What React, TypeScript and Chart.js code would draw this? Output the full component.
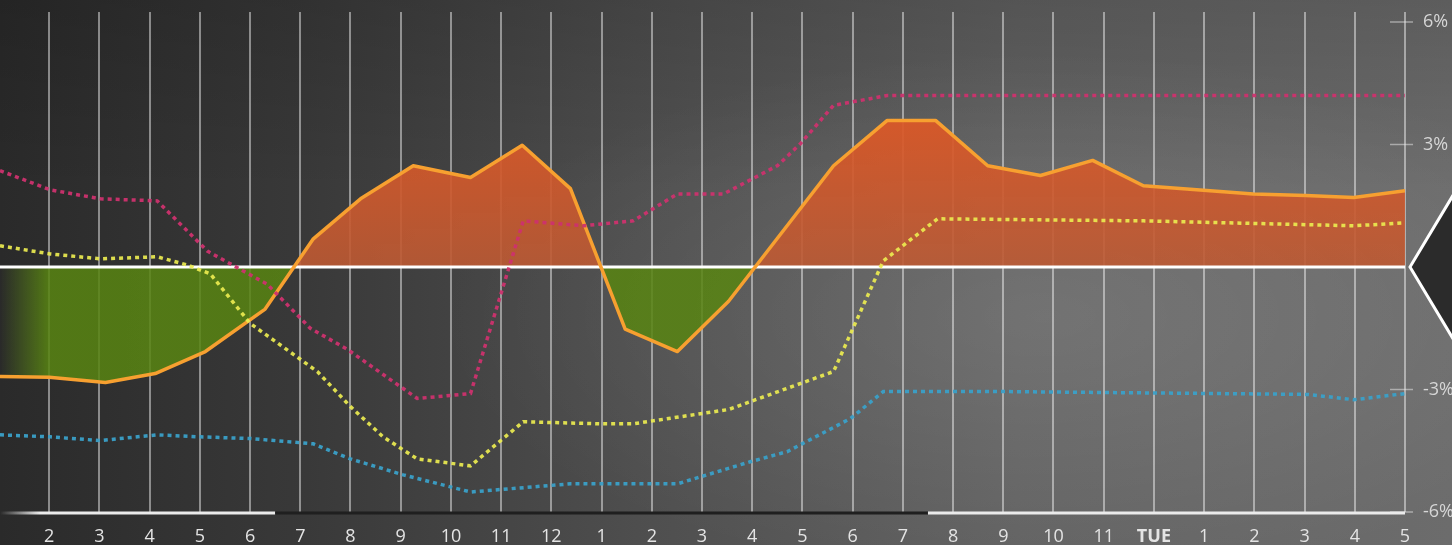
import React, { useEffect, useRef } from "react";
import { Chart, registerables } from "chart.js";

Chart.register(...registerables);

// ---------- data ----------
const hourLabels = ["2", "3", "4", "5", "6", "7", "8", "9", "10", "11", "12", "1", "2", "3", "4", "5", "6", "7", "8", "9", "10", "11", "TUE", "1", "2", "3", "4", "5"];
const yTickValues = [-6, -3, 0, 3, 6];

// orange (net) series: x positions in hour-index units, y in %
const netX = [-0.98, 0, 1.12, 2.11, 3.11, 4.3, 5.26, 6.2, 7.25, 8.39, 9.42, 10.38, 11.47, 12.51, 13.53, 15.62, 16.69, 17.65, 18.69, 19.74, 20.78, 21.79, 23.98, 25.02, 25.98, 27.0];
const netY = [-2.68, -2.7, -2.83, -2.61, -2.07, -1.03, 0.69, 1.67, 2.48, 2.19, 2.98, 1.92, -1.52, -2.07, -0.84, 2.48, 3.59, 3.59, 2.48, 2.24, 2.61, 1.99, 1.79, 1.75, 1.7, 1.87];

const pinkX = [-0.98, 0.02, 1.02, 2.15, 3.15, 4.34, 5.2, 5.94, 7.33, 8.39, 9.44, 10.64, 11.63, 12.51, 13.43, 14.5, 14.96, 15.62, 16.69, 27.0];
const pinkY = [2.36, 1.89, 1.67, 1.62, 0.39, -0.42, -1.5, -2.02, -3.22, -3.1, 1.13, 1.01, 1.13, 1.79, 1.79, 2.48, 3.02, 3.96, 4.2, 4.2];

const yellowX = [-0.98, 0.02, 1.02, 2.15, 2.75, 3.21, 4.0, 5.0, 5.34, 6.0, 6.65, 7.33, 8.39, 9.44, 10.98, 11.63, 13.53, 15.62, 16.61, 17.69, 21.79, 25.98, 27.0];
const yellowY = [0.52, 0.32, 0.2, 0.25, 0.05, -0.17, -1.38, -2.26, -2.56, -3.42, -4.16, -4.7, -4.87, -3.79, -3.84, -3.84, -3.49, -2.56, 0.15, 1.18, 1.13, 1.01, 1.08];

const blueX = [-0.98, 0.02, 1.02, 2.15, 3.01, 4.0, 5.26, 6.0, 7.05, 8.39, 10.38, 12.51, 13.96, 14.7, 15.96, 16.61, 18.94, 25.06, 25.98, 27.0];
const blueY = [-4.11, -4.16, -4.25, -4.11, -4.16, -4.2, -4.33, -4.7, -5.09, -5.51, -5.31, -5.31, -4.77, -4.52, -3.71, -3.05, -3.05, -3.12, -3.25, -3.1];

// highlighted time window on the bottom axis (hour-index units)
const windowStart = 4.5;
const windowEnd = 17.5;

const toPoints = (xs: number[], ys: number[]) => xs.map((x, k) => ({ x, y: ys[k] }));

const FONT = "'Open Sans', 'DejaVu Sans', sans-serif";

export default function App() {
  const canvasRef = useRef<HTMLCanvasElement | null>(null);

  useEffect(() => {
    const canvas = canvasRef.current;
    if (!canvas) return;
    const ctx = canvas.getContext("2d")!;

    const orangeGrad = ctx.createLinearGradient(0, 110, 0, 268);
    orangeGrad.addColorStop(0, "rgba(222,88,38,0.94)");
    orangeGrad.addColorStop(1, "rgba(188,90,52,0.9)");

    const greenGrad = ctx.createLinearGradient(0, 0, 48, 0);
    greenGrad.addColorStop(0, "rgba(88,132,18,0)");
    greenGrad.addColorStop(1, "rgba(88,132,18,0.86)");

    const decor = {
      id: "decor",
      beforeDatasetDraw(chart: any, args: any) {
        if (args.index !== 3) return;
        const { ctx: c, chartArea, scales } = chart;
        const y0 = scales.y.getPixelForValue(0);
        c.save();
        c.strokeStyle = "#ffffff";
        c.lineWidth = 3;
        c.beginPath();
        c.moveTo(chartArea.left, y0);
        c.lineTo(chartArea.right, y0);
        c.stroke();
        c.restore();
      },
      afterDraw(chart: any) {
        const { ctx: c, chartArea, scales } = chart;
        const xs = scales.x;
        const ys = scales.y;
        c.save();
        // right axis tick marks
        c.strokeStyle = "rgba(235,235,235,0.5)";
        c.lineWidth = 1.5;
        yTickValues.forEach((v) => {
          if (v === 0) return;
          const py = ys.getPixelForValue(v);
          c.beginPath();
          c.moveTo(chartArea.right - 15, py);
          c.lineTo(chartArea.right + 8, py);
          c.stroke();
        });
        // bottom axis with highlighted window
        const by = chartArea.bottom + 1;
        const xa = xs.getPixelForValue(windowStart);
        const xb = xs.getPixelForValue(windowEnd);
        c.lineWidth = 3;
        const wg = c.createLinearGradient(chartArea.left, 0, chartArea.left + 40, 0);
        wg.addColorStop(0, "rgba(235,235,235,0)");
        wg.addColorStop(1, "rgba(235,235,235,1)");
        c.strokeStyle = wg;
        c.beginPath();
        c.moveTo(chartArea.left, by);
        c.lineTo(xa, by);
        c.stroke();
        c.strokeStyle = "#1f1f1f";
        c.beginPath();
        c.moveTo(xa, by);
        c.lineTo(xb, by);
        c.stroke();
        c.strokeStyle = "rgba(235,235,235,1)";
        c.beginPath();
        c.moveTo(xb, by);
        c.lineTo(chartArea.right, by);
        c.stroke();
        // diamond marker at zero level
        const y0 = ys.getPixelForValue(0);
        const L = chartArea.right + 5;
        const dx = 60;
        const dy = 100;
        c.beginPath();
        c.moveTo(L, y0);
        c.lineTo(L + dx, y0 - dy);
        c.lineTo(L + 2 * dx, y0);
        c.lineTo(L + dx, y0 + dy);
        c.closePath();
        c.fillStyle = "#2b2b2b";
        c.fill();
        c.strokeStyle = "#ffffff";
        c.lineWidth = 3;
        c.stroke();
        c.restore();
      },
    };

    const dotted = (color: string, pts: { x: number; y: number }[]) => ({
      data: pts,
      borderColor: color,
      borderWidth: 3.5,
      borderDash: [4, 4],
      pointRadius: 0,
      fill: false,
      tension: 0,
    });

    const chart = new Chart(canvas, {
      type: "line",
      data: {
        datasets: [
          dotted("rgba(205,50,110,0.95)", toPoints(pinkX, pinkY)),
          dotted("rgba(236,236,80,0.92)", toPoints(yellowX, yellowY)),
          dotted("rgba(58,160,200,0.95)", toPoints(blueX, blueY)),
          {
            data: toPoints(netX, netY),
            borderColor: "#f7a030",
            borderWidth: 3.5,
            borderJoinStyle: "round",
            pointRadius: 0,
            tension: 0,
            fill: { target: "origin", above: orangeGrad, below: greenGrad },
          } as any,
        ],
      },
      options: {
        responsive: false,
        animation: false,
        layout: { padding: { top: 12, left: 0, right: 0, bottom: 0 } },
        plugins: { legend: { display: false }, tooltip: { enabled: false } },
        scales: {
          x: {
            type: "linear",
            min: -0.98,
            max: 27,
            afterBuildTicks: (s: any) => {
              s.ticks = hourLabels.map((_, i) => ({ value: i }));
            },
            afterFit: (s: any) => {
              s.height = 33;
              s.paddingLeft = 0;
              s.paddingRight = 0;
            },
            ticks: {
              autoSkip: false,
              maxRotation: 0,
              padding: 14,
              color: "#e4e4e4",
              callback: (v: any) => hourLabels[v] ?? "",
              font: (c: any) => ({
                family: FONT,
                size: 18,
                weight: c.tick && hourLabels[c.tick.value] === "TUE" ? "bold" : "normal",
              }),
            },
            grid: { color: "rgba(255,255,255,0.45)", lineWidth: 2, drawTicks: false },
            border: { display: false },
          },
          y: {
            position: "right",
            min: -6,
            max: 6.245,
            afterBuildTicks: (s: any) => {
              s.ticks = yTickValues.map((v) => ({ value: v }));
            },
            afterFit: (s: any) => {
              s.width = 47;
              s.paddingTop = 0;
              s.paddingBottom = 0;
            },
            ticks: {
              padding: 18,
              color: "#d6d6d6",
              font: { family: FONT, size: 18 },
              callback: (v: any) => (v === 0 ? "" : `${v}%`),
            },
            grid: { display: false, drawTicks: false },
            border: { display: false },
          },
        },
      } as any,
      plugins: [decor],
    });

    return () => chart.destroy();
  }, []);

  return (
    <div
      style={{
        position: "absolute",
        left: 0,
        top: 0,
        width: 1452,
        height: 545,
        overflow: "hidden",
        background:
          "radial-gradient(ellipse 60% 70% at 72% 58%, rgba(255,255,255,0.10), rgba(255,255,255,0) 70%), linear-gradient(to bottom, rgba(0,0,0,0.14), rgba(0,0,0,0) 35%), linear-gradient(to right, #2a2a2a 0%, #383838 20%, #4f4f4f 45%, #626262 70%, #6c6c6c 100%)",
      }}
    >
      <canvas ref={canvasRef} width={1452} height={545} style={{ display: "block" }} />
    </div>
  );
}
